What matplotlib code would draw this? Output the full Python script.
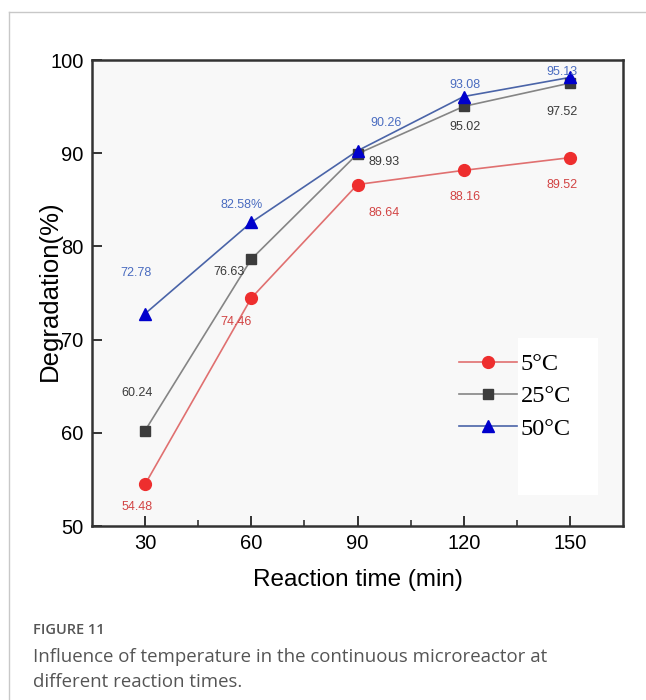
import numpy as np
import matplotlib.pyplot as plt
from matplotlib.patches import Rectangle
from matplotlib.lines import Line2D

# data
times = [30, 60, 90, 120, 150]
deg_5c = [54.48, 74.46, 86.64, 88.16, 89.52]
deg_25c = [60.24, 78.63, 89.93, 95.02, 97.52]
deg_50c = [72.78, 82.58, 90.26, 96.08, 98.13]

# point labels as printed in the figure
lab_5c = ["54.48", "74.46", "86.64", "88.16", "89.52"]
lab_25c = ["60.24", "76.63", "89.93", "95.02", "97.52"]
lab_50c = ["72.78", "82.58%", "90.26", "93.08", "95.13"]

# label offsets (pixels) relative to each point
off_5c = [(-8, -23), (-15, -24), (27, -28), (1, -27), (-8, -27)]
off_25c = [(-8, 38), (-22, -13), (27, -8), (1, -21), (-8, -29)]
off_50c = [(-9, 41), (-10, 17), (29, 28), (1, 12), (-8, 5)]

sans = ["Liberation Sans", "DejaVu Sans"]
serif = ["Liberation Serif", "DejaVu Serif"]
cap_font = ["Open Sans", "DejaVu Sans"]

fig = plt.figure(figsize=(6.46, 7.00), dpi=100)

# card border of the page
fig.add_artist(Line2D([9 / 646, 9 / 646], [0, 1 - 12 / 700], transform=fig.transFigure,
                      color="#c8c8c8", lw=1))
fig.add_artist(Line2D([9 / 646, 1], [1 - 12 / 700, 1 - 12 / 700], transform=fig.transFigure,
                      color="#c8c8c8", lw=1))

ax = fig.add_axes([92 / 646, 1 - 526 / 700, 531 / 646, 466 / 700])
ax.set_facecolor("#f8f8f8")

series = [
    (deg_5c, lab_5c, off_5c, "5°C", "o", "#ee2e2e", "#e07070", "#d24444", 8.5),
    (deg_25c, lab_25c, off_25c, "25°C", "s", "#3c3c3c", "#858585", "#3a3a3a", 6.5),
    (deg_50c, lab_50c, off_50c, "50°C", "^", "#0000cc", "#4a64a8", "#4a6cc0", 8.5),
]

handles = []
for vals, labs, offs, name, mk, mcol, lcol, tcol, ms in series:
    ax.plot(times, vals, color=lcol, lw=1.2, zorder=2)
    ax.plot(times, vals, linestyle="none", marker=mk, color=mcol, ms=ms, zorder=3)
    handles.append(Line2D([], [], color=lcol, lw=1.2, marker=mk, markerfacecolor=mcol,
                          markeredgecolor=mcol, ms=ms, label=name))
    for t, v, s, (dx, dy) in zip(times, vals, labs, offs):
        ax.annotate(s, (t, v), xytext=(dx, dy), textcoords="offset pixels",
                    ha="center", va="center", fontsize=9, color=tcol, family=sans)

# white patch behind the legend text
ax.add_patch(Rectangle((0.802, 0.0665), 0.151, 0.337, transform=ax.transAxes,
                       facecolor="white", edgecolor="none", zorder=1))

leg = ax.legend(handles=handles, loc="upper left", bbox_to_anchor=(0.668, 0.397),
                frameon=False, prop={"family": serif, "size": 17.5},
                handlelength=2.4, handletextpad=0.15, labelspacing=0.42, borderpad=0)

ax.set_xlim(15, 165)
ax.set_ylim(50, 100)
ax.set_xticks(times)
ax.set_xticks([45, 75, 105, 135], minor=True)
ax.set_yticks([50, 60, 70, 80, 90, 100])
ax.tick_params(axis="both", which="major", direction="in", length=7, width=1.4,
               labelsize=14.5, pad=6, color="#333333")
ax.tick_params(axis="x", which="minor", direction="in", length=4, width=1.2, color="#333333")
for lab in ax.get_xticklabels() + ax.get_yticklabels():
    lab.set_family(sans)
for sp in ax.spines.values():
    sp.set_linewidth(1.8)
    sp.set_color("#333333")

ax.set_xlabel("Reaction time (min)", fontsize=17.5, family=sans, labelpad=11)
ax.set_ylabel("Degradation(%)", fontsize=18.5, family=sans)
ax.yaxis.set_label_coords(-0.057, 0.505)

fig.text(33 / 646, 1 - 630 / 700, "FIGURE 11", fontsize=10.5, color="#555555",
         family=cap_font, weight="semibold", va="center")
fig.text(33 / 646, 1 - 657 / 700, "Influence of temperature in the continuous microreactor at",
         fontsize=13.4, color="#555555", family=cap_font, va="center")
fig.text(33 / 646, 1 - 682 / 700, "different reaction times.",
         fontsize=13.4, color="#555555", family=cap_font, va="center")

plt.savefig("out.png", dpi=100)
